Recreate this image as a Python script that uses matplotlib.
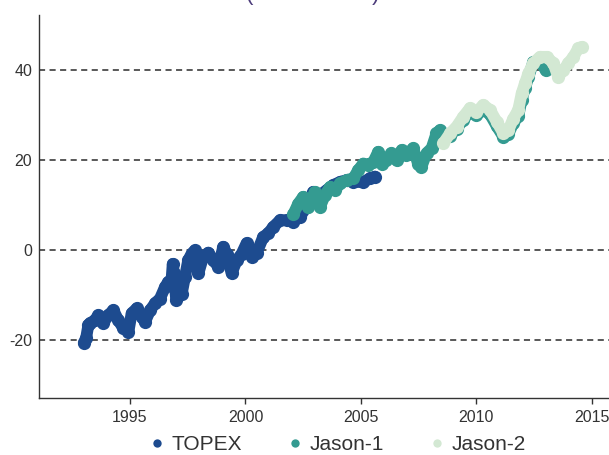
import matplotlib
matplotlib.use("Agg")
import matplotlib.pyplot as plt
from matplotlib.lines import Line2D

plt.rcParams['font.family'] = ['Liberation Sans', 'DejaVu Sans']

# ---- data ----
topex_years = [1993.0, 1993.1, 1993.2, 1993.27, 1993.48, 1993.63, 1993.84, 1994.06, 1994.28, 1994.49,
               1994.71, 1994.93, 1995.07, 1995.29, 1995.5, 1995.65, 1995.87, 1996.08, 1996.3, 1996.52,
               1996.66, 1996.8, 1996.85, 1996.9, 1996.95, 1997.0, 1997.24, 1997.38, 1997.52, 1997.67,
               1997.81, 1997.96, 1998.17, 1998.39, 1998.61, 1998.82, 1999.04, 1999.18, 1999.4, 1999.62,
               1999.84, 2000.05, 2000.27, 2000.49, 2000.77, 2000.99, 2001.2, 2001.5, 2001.78, 2002.07,
               2002.36, 2002.65, 2002.94, 2003.23, 2003.52, 2003.8, 2004.09, 2004.38, 2004.67, 2005.1,
               2005.39, 2005.6]
topex_vals = [-20.5, -19.5, -16.5, -16.2, -15.5, -14.4, -16.2, -14.4, -13.3, -15.5,
              -17.3, -18.1, -14.0, -12.9, -14.7, -15.9, -13.3, -11.8, -10.7, -8.1,
              -7.0, -6.5, -3.0, -5.0, -8.0, -11.0, -9.6, -5.9, -2.2, -0.7,
              0.0, -5.1, -1.4, -0.5, -2.2, -3.6, 0.8, -0.7, -5.1, -2.2,
              -0.7, 1.6, -1.4, -0.5, 3.0, 3.8, 5.2, 6.7, 6.7, 6.4,
              7.5, 9.7, 13.0, 12.3, 13.4, 14.5, 15.2, 15.6, 15.2, 15.2,
              16.0, 16.4]

jason1_years = [2002.07, 2002.29, 2002.5, 2002.72, 2003.0, 2003.23, 2003.44, 2003.66, 2003.88, 2004.1,
                2004.38, 2004.67, 2004.88, 2005.1, 2005.32, 2005.54, 2005.75, 2005.9, 2006.1, 2006.32,
                2006.54, 2006.76, 2006.97, 2007.26, 2007.47, 2007.62, 2007.84, 2008.06, 2008.27, 2008.42,
                2008.6, 2008.86, 2009.14, 2009.43, 2009.72, 2010.0, 2010.3, 2010.59, 2010.88, 2011.17,
                2011.38, 2011.6, 2011.81, 2011.96, 2012.1, 2012.25, 2012.46, 2012.75, 2013.0]
jason1_vals = [8.0, 10.4, 11.9, 9.7, 13.0, 9.7, 12.3, 14.1, 13.4, 14.9,
               15.6, 16.0, 17.8, 19.3, 19.0, 19.7, 21.9, 19.3, 20.0, 21.6,
               20.0, 22.3, 21.2, 22.7, 19.3, 18.6, 21.6, 22.7, 26.0, 26.7,
               25.0, 25.5, 27.0, 29.0, 30.8, 30.0, 31.3, 30.2, 27.6, 25.2,
               25.8, 28.3, 29.8, 33.5, 36.0, 38.5, 41.8, 42.0, 40.0]

jason2_years = [2008.57, 2008.86, 2009.14, 2009.43, 2009.72, 2010.0, 2010.3, 2010.59, 2010.88, 2011.17,
                2011.38, 2011.6, 2011.81, 2011.96, 2012.1, 2012.25, 2012.46, 2012.75, 2013.04, 2013.33,
                2013.54, 2013.76, 2013.98, 2014.2, 2014.41, 2014.56]
jason2_vals = [23.8, 26.0, 27.5, 29.7, 31.6, 30.8, 32.3, 31.2, 28.6, 26.0,
               26.7, 29.3, 31.2, 34.9, 37.1, 39.3, 41.6, 43.0, 43.0, 41.6,
               38.6, 40.0, 41.6, 43.0, 44.9, 45.2]

series_names = ["TOPEX", "Jason-1", "Jason-2"]
series_colors = ["#1d4b8f", "#349b91", "#d3e8d3"]
x_ticks = [1995, 2000, 2005, 2010, 2015]
y_ticks = [-20, 0, 20, 40]

# ---- figure ----
fig = plt.figure(figsize=(6.09, 4.55), dpi=100)
ax = fig.add_axes([39 / 609, 57 / 455, 570 / 609, 383 / 455])

text_color = "#333333"

for yt in y_ticks:
    ax.axhline(yt, color="#2b2b2b", lw=1.1, ls=(0, (4.0, 2.9)), zorder=1)

for xs, ys, c in zip([topex_years, jason1_years, jason2_years],
                     [topex_vals, jason1_vals, jason2_vals], series_colors):
    ax.plot(xs, ys, color=c, lw=8.5, marker='o', markersize=9.5, markeredgewidth=0,
            solid_capstyle='round', solid_joinstyle='round', zorder=3)

ax.set_xlim(1991.06, 2015.74)
ax.set_ylim(-32.8, 52.3)
ax.set_xticks(x_ticks)
ax.set_yticks(y_ticks)
ax.set_xticklabels([str(v) for v in x_ticks])
ax.set_yticklabels([str(v) for v in y_ticks])

for side in ["top", "right"]:
    ax.spines[side].set_visible(False)
for side in ["left", "bottom"]:
    ax.spines[side].set_color(text_color)
    ax.spines[side].set_linewidth(1.0)

ax.tick_params(axis='x', length=4, width=1, color=text_color, pad=5,
               labelsize=11.5, labelcolor=text_color, direction='out')
ax.tick_params(axis='y', length=0, pad=5, labelsize=11.5, labelcolor=text_color)

handles = [Line2D([], [], ls='', marker='o', markersize=6, markeredgewidth=0, color=c)
           for c in series_colors]
fig.legend(handles, series_names, loc='center', bbox_to_anchor=(0.553, 0.022), ncol=3,
           frameon=False, fontsize=15, handletextpad=0.25, columnspacing=2.1,
           handlelength=0.9, borderpad=0, labelcolor=text_color)

# title, cut off at the top of the image in the reference
fig.text(0.513, 0.999, "(1993 - 2014)", ha='center', va='baseline', fontsize=16,
         color="#4b3b7a")

fig.savefig("out.png", dpi=100)
